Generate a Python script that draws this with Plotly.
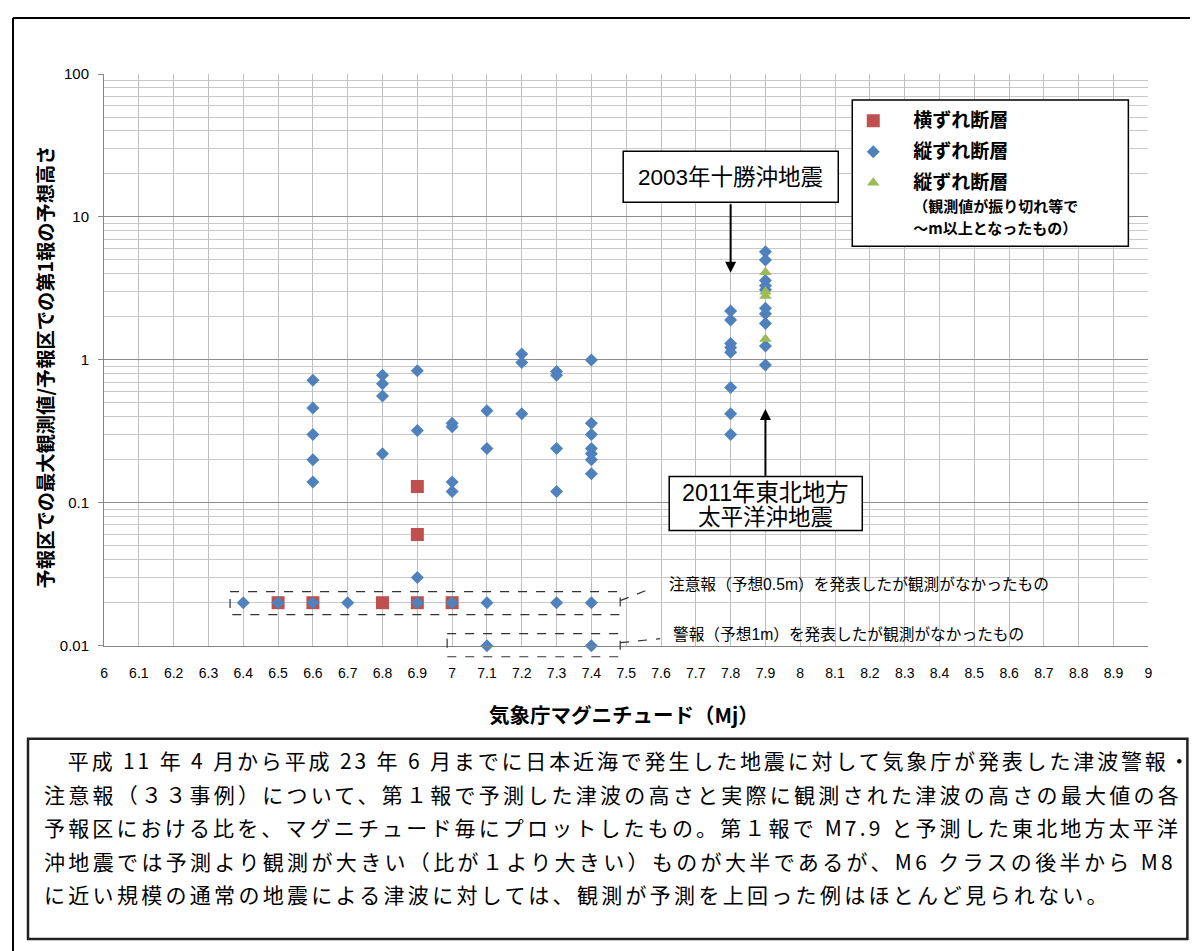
import math
import plotly.graph_objects as go

FW, FH = 1198, 951
# measured placement of the rendered figure in the photographed window: window = A + S * figure
AX, SX = 12.0, 0.993
AY, SY = 17.0, 0.981

# ---------------- data ----------------
x_tickvals = [6.0, 6.1, 6.2, 6.3, 6.4, 6.5, 6.6, 6.7, 6.8, 6.9, 7.0, 7.1, 7.2, 7.3, 7.4, 7.5,
              7.6, 7.7, 7.8, 7.9, 8.0, 8.1, 8.2, 8.3, 8.4, 8.5, 8.6, 8.7, 8.8, 8.9, 9.0]
x_ticktext = ["6", "6.1", "6.2", "6.3", "6.4", "6.5", "6.6", "6.7", "6.8", "6.9", "7", "7.1", "7.2",
              "7.3", "7.4", "7.5", "7.6", "7.7", "7.8", "7.9", "8", "8.1", "8.2", "8.3", "8.4", "8.5",
              "8.6", "8.7", "8.8", "8.9", "9"]
y_tickvals = [0.01, 0.1, 1, 10, 100]
y_ticktext = ["0.01", "0.1", "1", "10", "100"]

# 横ずれ断層 (strike-slip)
strike_x = [6.5, 6.6, 6.8, 6.9, 6.9, 6.9, 7.0]
strike_y = [0.02, 0.02, 0.02, 0.13, 0.06, 0.02, 0.02]

# 縦ずれ断層 (dip-slip)
dip_x = [6.4,
         6.5,
         6.6, 6.6, 6.6, 6.6, 6.6, 6.6,
         6.7,
         6.8, 6.8, 6.8, 6.8,
         6.9, 6.9, 6.9, 6.9,
         7.0, 7.0, 7.0, 7.0, 7.0,
         7.1, 7.1, 7.1, 7.1,
         7.2, 7.2, 7.2,
         7.3, 7.3, 7.3, 7.3, 7.3,
         7.4, 7.4, 7.4, 7.4, 7.4, 7.4, 7.4, 7.4, 7.4,
         7.8, 7.8, 7.8, 7.8, 7.8, 7.8, 7.8, 7.8,
         7.9, 7.9, 7.9, 7.9, 7.9, 7.9, 7.9, 7.9, 7.9, 7.9]
dip_y = [0.02,
         0.02,
         0.72, 0.46, 0.30, 0.20, 0.14, 0.02,
         0.02,
         0.78, 0.68, 0.56, 0.22,
         0.84, 0.32, 0.03, 0.02,
         0.36, 0.34, 0.14, 0.12, 0.02,
         0.44, 0.24, 0.02, 0.01,
         1.1, 0.96, 0.42,
         0.83, 0.78, 0.24, 0.12, 0.02,
         1.0, 0.36, 0.30, 0.24, 0.22, 0.20, 0.16, 0.02, 0.01,
         2.2, 1.9, 1.3, 1.22, 1.13, 0.64, 0.42, 0.30,
         5.7, 5.0, 3.6, 3.3, 3.1, 2.3, 2.1, 1.8, 1.25, 0.92]

# 縦ずれ断層 (観測値が振り切れ等で～m以上となったもの)
sat_x = [7.9, 7.9, 7.9, 7.9]
sat_y = [4.1, 3.0, 2.8, 1.4]

# event arrows: (magnitude, ratio at arrow head, ratio at arrow tail)
tokachi_arrow = (7.8, 4.07, 12.6)
tohoku_arrow = (7.9, 0.454, 0.151)

body_lines = [
    "　平成 11 年 4 月から平成 23 年 6 月までに日本近海で発生した地震に対して気象庁が発表した津波警報・",
    "注意報（３３事例）について、第１報で予測した津波の高さと実際に観測された津波の高さの最大値の各",
    "予報区における比を、マグニチュード毎にプロットしたもの。第１報で M7.9 と予測した東北地方太平洋",
    "沖地震では予測より観測が大きい（比が１より大きい）ものが大半であるが、M6 クラスの後半から M8",
    "に近い規模の通常の地震による津波に対しては、観測が予測を上回った例はほとんど見られない。",
]

# ---------------- styling ----------------
JP = "Noto Sans CJK JP"
SANS = "Liberation Sans, Arial, Noto Sans CJK JP"
NARROW = "Liberation Sans Narrow, Liberation Sans, Arial"
RED, BLUE, GREEN = "#C0504D", "#4F81BD", "#9BBB59"


def px(x):
    v = (x - AX) / SX / FW
    return min(max(v, 1.0 / FW), 1 - 1.0 / FW)


def py(y):
    v = 1 - (y - AY) / SY / FH
    return min(max(v, 1.0 / FH), 1 - 1.0 / FH)


fig = go.Figure()
fig.add_trace(go.Scatter(x=strike_x, y=strike_y, mode="markers",
                         name="<span style='font-size:19px'><b>横ずれ断層</b></span>",
                         marker=dict(symbol="square", size=13, color=RED),
                         cliponaxis=False, legendgroup="a"))
fig.add_trace(go.Scatter(x=dip_x, y=dip_y, mode="markers",
                         name="<span style='font-size:19px'><b>縦ずれ断層</b></span>",
                         marker=dict(symbol="diamond", size=10, color=BLUE),
                         cliponaxis=False, legendgroup="b"))
fig.add_trace(go.Scatter(x=sat_x, y=sat_y, mode="markers",
                         name="<span style='font-size:19px'><b>縦ずれ断層</b></span><br>"
                              "<span style='font-size:15px'><b>（観測値が振り切れ等で</b></span><br>"
                              "<span style='font-size:15px'><b>～m以上となったもの）</b></span>",
                         marker=dict(symbol="triangle-up", size=11, color=GREEN),
                         cliponaxis=False, legendgroup="c"))

shapes = []
# outer frame
shapes.append(dict(type="line", xref="paper", yref="paper", x0=px(8), x1=1, y0=py(10), y1=py(10),
                   line=dict(color="black", width=2)))
shapes.append(dict(type="line", xref="paper", yref="paper", x0=px(8), x1=px(8), y0=py(10), y1=0,
                   line=dict(color="black", width=2)))
# legend box
shapes.append(dict(type="rect", xref="paper", yref="paper", x0=px(852), x1=px(1128), y0=py(100), y1=py(246),
                   line=dict(color="black", width=1.5), fillcolor="white", layer="above"))
# event boxes
shapes.append(dict(type="rect", xref="paper", yref="paper", x0=px(623), x1=px(838), y0=py(151), y1=py(202),
                   line=dict(color="black", width=1.5), fillcolor="white", layer="above"))
shapes.append(dict(type="rect", xref="paper", yref="paper", x0=px(669), x1=px(862), y0=py(476), y1=py(530),
                   line=dict(color="black", width=1.5), fillcolor="white", layer="above"))
# dashed boxes + leaders
dash = dict(color="#333333", width=1.2, dash="dash")
shapes.append(dict(type="rect", xref="paper", yref="paper", x0=px(230), x1=px(620), y0=py(591), y1=py(614),
                   line=dash, layer="above"))
shapes.append(dict(type="rect", xref="paper", yref="paper", x0=px(447), x1=px(620), y0=py(633), y1=py(656),
                   line=dash, layer="above"))
shapes.append(dict(type="line", xref="paper", yref="paper", x0=px(620), x1=px(648), y0=py(600), y1=py(589),
                   line=dash, layer="above"))
shapes.append(dict(type="line", xref="paper", yref="paper", x0=px(620), x1=px(660), y0=py(642), y1=py(638),
                   line=dash, layer="above"))
# caption box
shapes.append(dict(type="rect", xref="paper", yref="paper", x0=px(28), x1=px(1187), y0=py(738), y1=py(938),
                   line=dict(color="#222222", width=2.5), fillcolor="white"))


def note(x, y, text, size, family=SANS, xanchor="center", **kw):
    d = dict(xref="paper", yref="paper", x=px(x), y=py(y), xanchor=xanchor, yanchor="middle",
             showarrow=False, text=text, font=dict(family=family, size=size, color="black"))
    d.update(kw)
    return d


annotations = [
    note(45, 367, "<b>予報区での最大観測値/予報区での第1報の予想高さ</b>", 19.3, JP, textangle=-90),
    note(624, 713, "<b>気象庁マグニチュード（Mj）</b>", 20.5, JP),
    note(730.5, 177, "2003年十勝沖地震", 22.5),
    note(765.5, 492, "2011年東北地方", 23.3),
    note(765.5, 517, "太平洋沖地震", 22.5),
    note(667, 584, "注意報（予想0.5m）を発表したが観測がなかったもの", 15.7, xanchor="left"),
    note(671, 634, "警報（予想1m）を発表したが観測がなかったもの", 15.7, xanchor="left"),
]
for mag, head, tail in (tokachi_arrow, tohoku_arrow):
    annotations.append(dict(xref="x", yref="y", axref="x", ayref="y", x=mag, y=math.log10(head),
                            ax=mag, ay=math.log10(tail), text="", showarrow=True,
                            arrowhead=2, arrowsize=1.1, arrowwidth=2, arrowcolor="black"))
line_y = [759, 793, 826, 860, 893]
line_ls = [2.85, 3.25, 3.15, 3.35, 3.3]
for txt, yy, ls in zip(body_lines, line_y, line_ls):
    annotations.append(note(42, yy, "<span style='letter-spacing:%.2fpx'>%s</span>" % (ls, txt), 21, JP,
                            xanchor="left"))

fig.update_layout(
    width=FW, height=FH,
    margin=dict(l=0, r=0, t=0, b=0),
    paper_bgcolor="white", plot_bgcolor="white",
    showlegend=True,
    legend=dict(x=px(833), y=py(103), xanchor="left", yanchor="top", bgcolor="rgba(0,0,0,0)",
                borderwidth=0, valign="top", tracegroupgap=6, itemwidth=70,
                font=dict(family=JP, size=17, color="black")),
    xaxis=dict(domain=[px(104), px(1148)], range=[6, 9], tickmode="array", tickvals=x_tickvals,
               ticktext=x_ticktext, showgrid=True, gridcolor="#c0c0c0", gridwidth=1, zeroline=False,
               showline=True, linecolor="#868686", linewidth=1, ticks="", ticklabelstandoff=14,
               tickfont=dict(family=NARROW, size=14, color="black")),
    yaxis=dict(domain=[py(645), py(74)], type="log", range=[-2, 2], tickmode="array", tickvals=y_tickvals,
               ticktext=y_ticktext, showgrid=True, gridcolor="#8c8c8c", gridwidth=1, zeroline=False,
               showline=True, linecolor="#868686", linewidth=1, ticks="outside", ticklen=5,
               tickcolor="#868686", ticklabelstandoff=6,
               tickfont=dict(family=SANS, size=15, color="black"),
               minor=dict(dtick="D1", showgrid=True, gridcolor="#c8c8c8", gridwidth=1, ticks="")),
    shapes=shapes,
    annotations=annotations,
)

fig.write_html("out.html")
